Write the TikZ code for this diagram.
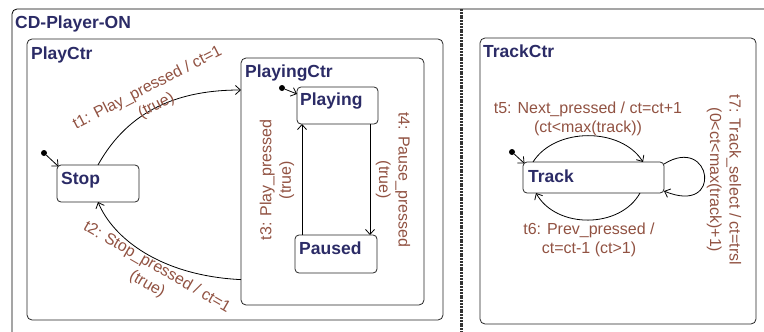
\documentclass[tikz,border=0pt]{standalone}
\usepackage{fontspec}
\setmainfont{Liberation Sans}
\usetikzlibrary{arrows.meta}
\definecolor{titleblue}{RGB}{43,43,102}
\definecolor{labelbrown}{RGB}{145,82,66}
\begin{document}
\begin{tikzpicture}[x=1pt,y=-1pt,
    ctrbox/.style={draw=black!85,line width=0.8pt,rounded corners=5pt,anchor=north west,inner sep=0,outer sep=0},
    stbox/.style={ctrbox,rounded corners=4pt},
    boxname/.style={font=\bfseries\fontsize{17.5}{20}\selectfont,text=titleblue,inner sep=0,anchor=north west},
    trlabel/.style={font=\fontsize{16}{19.5}\selectfont,text=labelbrown,align=center,inner sep=0},
    initdot/.style={circle,fill=black,inner sep=0,minimum size=6pt},
    trans/.style={->,line width=0.8pt},
    >={Straight Barb[length=5pt,width=9pt]}]
      \useasboundingbox (0,0) rectangle (764,332);
      \draw[line width=0.8pt,rounded corners=5pt] (12,332) -- (12,9) -- (764,9);
      \node[boxname] (cdname) at (15,16) {CD-Player-ON};
      \draw[line width=3pt,black!80,dash pattern=on 2pt off 0.8pt] (461,9) -- (461,332);
      \node[ctrbox,minimum width=416pt,minimum height=281pt] (playctr) at (27,39) {};
      \node[boxname] (playctrname) at ([shift={(4pt,-8pt)}]playctr.north west) {PlayCtr};
      \node[ctrbox,minimum width=183pt,minimum height=247pt] (playingctr) at (241,58) {};
      \node[boxname] (playingctrname) at ([shift={(4pt,-7pt)}]playingctr.north west) {PlayingCtr};
      \node[stbox,minimum width=82pt,minimum height=37pt] (stop) at (57,165) {};
      \node[boxname] (stopname) at ([shift={(4pt,-7pt)}]stop.north west) {Stop};
      \node[stbox,minimum width=81pt,minimum height=37pt] (playing) at (297,87) {};
      \node[boxname] (playingname) at ([shift={(3pt,-6pt)}]playing.north west) {Playing};
      \node[stbox,minimum width=82pt,minimum height=38pt] (paused) at (295,235) {};
      \node[boxname] (pausedname) at ([shift={(4pt,-7pt)}]paused.north west) {Paused};
      \node[ctrbox,minimum width=276pt,minimum height=286pt] (trackctr) at (480,38) {};
      \node[boxname] (trackctrname) at ([shift={(3pt,-7pt)}]trackctr.north west) {TrackCtr};
      \node[stbox,minimum width=141pt,minimum height=31pt] (track) at (523,162) {};
      \node[boxname] (trackname) at ([shift={(5pt,-8pt)}]track.north west) {Track};
      \node[initdot] (stopinit) at (44,153) {};
      \node[initdot] (playinginit) at (282,88) {};
      \node[initdot] (trackinit) at (512,152) {};
      \draw[trans] (stopinit) -- ([shift={(1.5pt,-1.5pt)}]stop.north west);
      \draw[trans] (playinginit) -- ([yshift=-7pt]playing.north west);
      \draw[trans] (trackinit) -- ([shift={(1.5pt,-1.5pt)}]track.north west);
      \draw[trans] (stop.north) .. controls +(31pt,56pt) and +(-61pt,0pt) .. (playingctr.135);
      \draw[trans] (playingctr.227) .. controls +(-81pt,4pt) and +(15pt,-36pt) .. (stop.south);
      \coordinate (t3a) at ([xshift=-34pt]paused.north);
      \coordinate (t4a) at ([xshift=32.5pt]playing.south);
      \draw[trans] (t3a) -- (t3a |- playing.south);
      \draw[trans] (t4a) -- (t4a |- paused.north);
      \draw[trans] ([xshift=-60.5pt]track.north) .. controls +(22pt,35pt) and +(-22pt,35pt) .. ([xshift=49.5pt]track.north);
      \draw[trans] ([xshift=46.5pt]track.south) .. controls +(-20pt,-36pt) and +(20pt,-36pt) .. ([xshift=-57.5pt]track.south);
      \draw[trans] ([yshift=-2pt]track.north east) .. controls +(48pt,30pt) and +(60pt,-25pt) .. ([yshift=2pt]track.south east);
      \node[trlabel,rotate=27] (t1lbl) at (152,97) {t1: Play\_pressed / ct=1\\(true)};
      \node[trlabel,rotate=-30] (t2lbl) at (152,276) {t2: Stop\_pressed / ct=1\\(true)};
      \node[trlabel,rotate=90] (t3lbl) at (277,180) {t3: Play\_pressed\\(true)};
      \node[trlabel,rotate=-90] (t4lbl) at (393,180) {t4: Pause\_pressed\\(true)};
      \node[trlabel] (t5lbl) at (588,119) {t5: Next\_pressed / ct=ct+1\\(ct<max(track))};
      \node[trlabel] (t6lbl) at (589,240) {t6: Prev\_pressed /\\ct=ct-1 (ct>1)};
      \node[trlabel,rotate=-90] (t7lbl) at (724,180) {t7: Track\_select / ct=trsl\\(0<ct<max(track)+1)};
    \end{tikzpicture}
\end{document}
